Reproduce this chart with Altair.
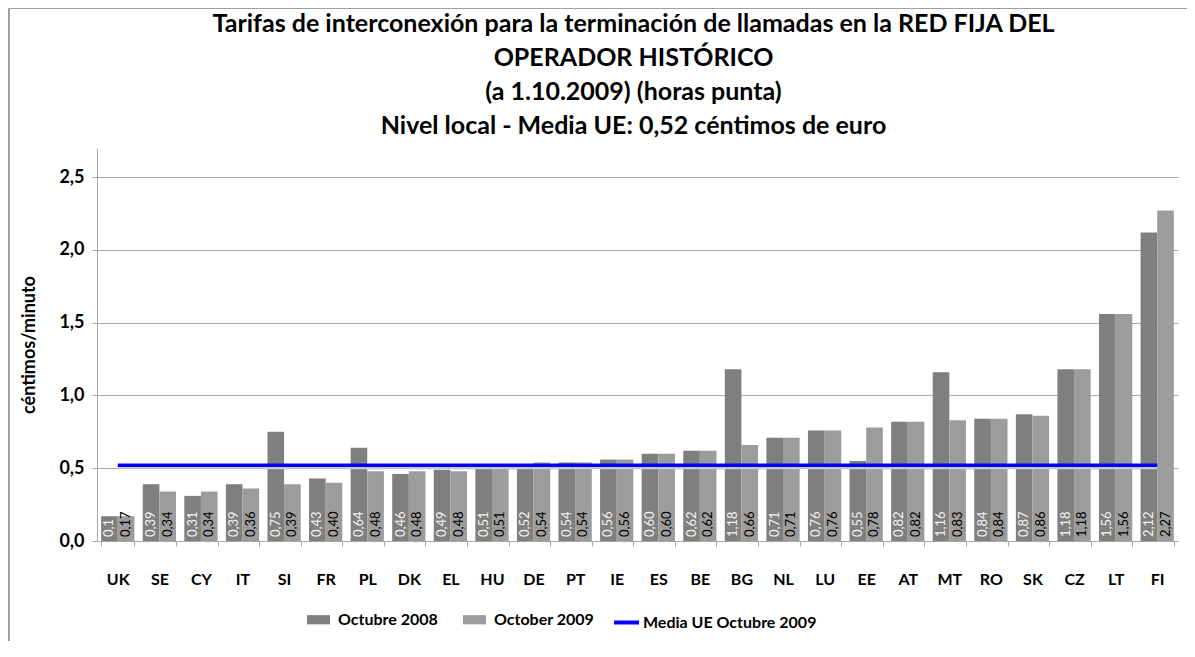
import altair as alt
import pandas as pd

countries = ["UK", "SE", "CY", "IT", "SI", "FR", "PL", "DK", "EL", "HU", "DE", "PT", "IE",
             "ES", "BE", "BG", "NL", "LU", "EE", "AT", "MT", "RO", "SK", "CZ", "LT", "FI"]
v2008 = [0.17, 0.39, 0.31, 0.39, 0.75, 0.43, 0.64, 0.46, 0.49, 0.51, 0.52, 0.54, 0.56,
         0.60, 0.62, 1.18, 0.71, 0.76, 0.55, 0.82, 1.16, 0.84, 0.87, 1.18, 1.56, 2.12]
v2009 = [0.17, 0.34, 0.34, 0.36, 0.39, 0.40, 0.48, 0.48, 0.48, 0.51, 0.54, 0.54, 0.56,
         0.60, 0.62, 0.66, 0.71, 0.76, 0.78, 0.82, 0.83, 0.84, 0.86, 1.18, 1.56, 2.27]
lab2008 = ["0,1", "0,39", "0,31", "0,39", "0,75", "0,43", "0,64", "0,46", "0,49", "0,51", "0,52", "0,54", "0,56",
           "0,60", "0,62", "1,18", "0,71", "0,76", "0,55", "0,82", "1,16", "0,84", "0,87", "1,18", "1,56", "2,12"]
lab2009 = ["0,17", "0,34", "0,34", "0,36", "0,39", "0,40", "0,48", "0,48", "0,48", "0,51", "0,54", "0,54", "0,56",
           "0,60", "0,62", "0,66", "0,71", "0,76", "0,78", "0,82", "0,83", "0,84", "0,86", "1,18", "1,56", "2,27"]
series = ["Octubre 2008", "October 2009"]
mean_label = "Media UE Octubre 2009"
mean_value = 0.52
yticks = [0, 0.5, 1.0, 1.5, 2.0, 2.5]
title_lines = ["Tarifas de interconexión para la terminación de llamadas en la RED FIJA DEL",
               "OPERADOR HISTÓRICO",
               "(a 1.10.2009) (horas punta)",
               "Nivel local - Media UE: 0,52 céntimos de euro"]

rows = []
for c, a, b, la, lb in zip(countries, v2008, v2009, lab2008, lab2009):
    rows.append({"country": c, "serie": series[0], "value": a, "label": la})
    rows.append({"country": c, "serie": series[1], "value": b, "label": lb})
bars_df = pd.DataFrame(rows)
mean_df = pd.DataFrame({"country": countries, "value": [mean_value] * len(countries),
                        "serie": [mean_label] * len(countries)})
frame_df = pd.DataFrame({"a": [0]})

FONT = "Lato"
GRID = "#a6a6a6"

x_enc = alt.X("country:N", sort=countries,
              scale=alt.Scale(paddingInner=0.2, paddingOuter=0.1),
              axis=alt.Axis(title=None, labelFont=FONT, labelFontWeight="bold", labelFontSize=16,
                            labelColor="black", labelAngle=0, labelPadding=25, tickBand="extent",
                            tickSize=5, tickColor=GRID, domainColor=GRID))
y_enc = alt.Y("value:Q", scale=alt.Scale(domain=[0, 2.7], nice=False, zero=True),
              axis=alt.Axis(values=yticks, labelExpr="replace(format(datum.value, '.1f'), '.', ',')",
                            title="céntimos/minuto", titleFont=FONT, titleFontSize=18,
                            titleFontWeight="bold", titleColor="black", titlePadding=20,
                            labelFont=FONT, labelFontWeight="bold", labelFontSize=18,
                            labelColor="black", labelPadding=8, tickSize=5, tickColor=GRID,
                            domainColor=GRID, grid=True, gridColor=GRID))

base = alt.Chart(bars_df)

bars = base.mark_bar().encode(
    x=x_enc,
    xOffset=alt.XOffset("serie:N", sort=series, scale=alt.Scale(paddingInner=0)),
    y=y_enc,
    fill=alt.Fill("serie:N", sort=series,
                  scale=alt.Scale(domain=series, range=["#7f7f7f", "#9c9c9c"]),
                  legend=alt.Legend(title=None, orient="none", legendX=210, legendY=460,
                                    direction="horizontal", padding=0,
                                    symbolType="M-1,-0.4H1V0.4H-1Z", symbolSize=529,
                                    symbolStrokeWidth=0, labelFont=FONT, labelFontWeight="bold",
                                    labelFontSize=16, labelColor="black", labelOffset=8,
                                    columnPadding=25, labelLimit=300)),
)

texts = base.mark_text(angle=270, align="left", baseline="middle", dx=4, font=FONT,
                       fontSize=13).encode(
    x=alt.X("country:N", sort=countries),
    xOffset=alt.XOffset("serie:N", sort=series),
    y=alt.datum(0),
    text="label:N",
    color=alt.Color("serie:N", scale=alt.Scale(domain=series, range=["#f2f2f2", "#000000"]),
                    legend=None),
)

shadow = alt.Chart(mean_df).mark_line(color="#c8c8c8", strokeWidth=3, yOffset=2.5).encode(
    x=alt.X("country:N", sort=countries),
    y=alt.Y("value:Q"),
)

line = alt.Chart(mean_df).mark_line(strokeWidth=3.5).encode(
    x=alt.X("country:N", sort=countries),
    y=alt.Y("value:Q"),
    stroke=alt.Stroke("serie:N", scale=alt.Scale(domain=[mean_label], range=["#0000ff"]),
                      legend=alt.Legend(title=None, orient="none", legendX=515, legendY=460,
                                        padding=0, symbolType="stroke", symbolSize=625,
                                        symbolStrokeWidth=4, labelFont=FONT, labelFontWeight="bold",
                                        labelFontSize=16, labelColor="black", labelOffset=2,
                                        labelLimit=300)),
)

border_left = alt.Chart(frame_df).mark_rule(color="#a0a0a0", strokeWidth=2).encode(
    x=alt.value(-88), y=alt.value(-140), y2=alt.value(493))
border_top = alt.Chart(frame_df).mark_rule(color="#a0a0a0", strokeWidth=2).encode(
    x=alt.value(-89), x2=alt.value(1090), y=alt.value(-140))

chart = alt.layer(bars, texts, shadow, line, border_left, border_top).properties(
    width=1081, height=393,
    autosize=alt.AutoSizeParams(type="none"),
    padding={"left": 89, "top": 140, "right": 9, "bottom": 100},
    title=alt.TitleParams(text=title_lines, font=FONT, fontSize=25, fontWeight="bold",
                          color="black", lineHeight=34, offset=-132, frame="group",
                          anchor="middle", dx=-4),
).configure_view(stroke="transparent")

chart.save("out.html", embed_options={"renderer": "svg", "actions": False})
